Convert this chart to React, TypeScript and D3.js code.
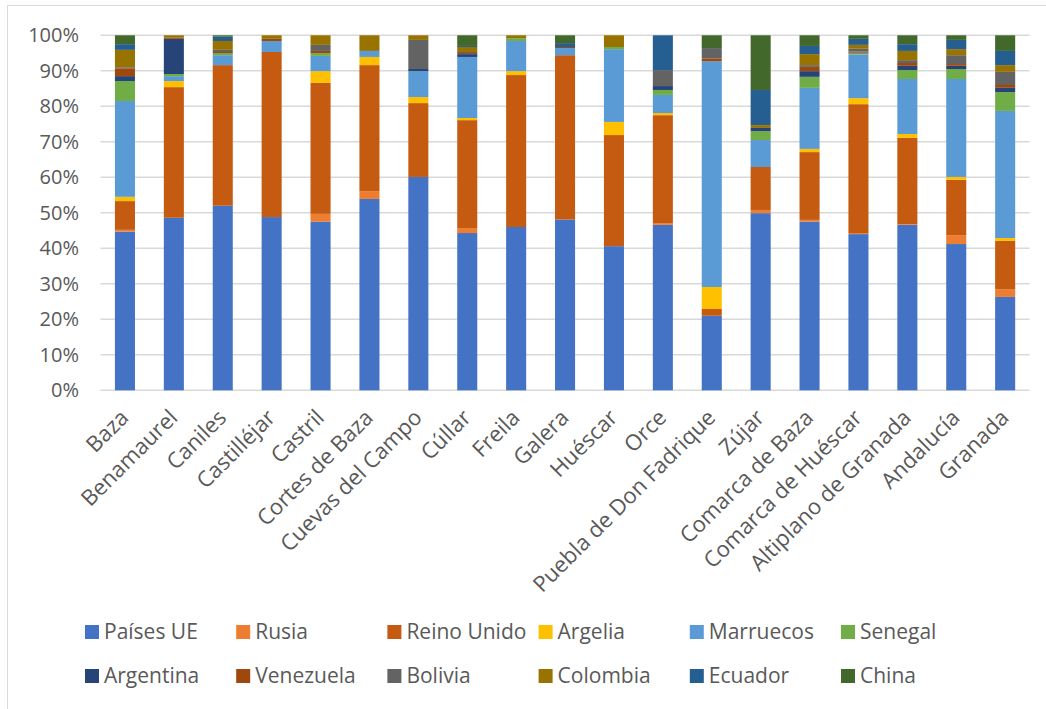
import React from "react";
import * as d3 from "d3";

const categories = [
  "Baza", "Benamaurel", "Caniles", "Castilléjar", "Castril", "Cortes de Baza",
  "Cuevas del Campo", "Cúllar", "Freila", "Galera", "Huéscar", "Orce",
  "Puebla de Don Fadrique", "Zújar", "Comarca de Baza", "Comarca de Huéscar",
  "Altiplano de Granada", "Andalucía", "Granada",
];

const paisesUE = [44.7, 48.6, 52.0, 48.8, 47.5, 53.9, 60.1, 44.3, 46.0, 48.1, 40.6, 46.6, 21.0, 49.9, 47.5, 44.0, 46.6, 41.2, 26.3];
const rusia = [0.5, 0, 0, 0, 2.2, 2.2, 0, 1.4, 0, 0, 0, 0.5, 0, 0.9, 0.5, 0.3, 0.2, 2.5, 2.2];
const reinoUnido = [8.1, 36.8, 39.6, 46.5, 36.9, 35.5, 20.8, 30.4, 42.8, 46.3, 31.3, 30.4, 1.9, 12.1, 19.1, 36.3, 24.3, 15.6, 13.6];
const argelia = [1.2, 1.7, 0, 0, 3.3, 2.3, 1.7, 0.6, 1.1, 0, 3.7, 0.6, 6.2, 0, 0.9, 1.7, 1.1, 0.8, 0.8];
const marruecos = [27.0, 1.4, 2.8, 3.1, 4.3, 1.7, 7.3, 17.2, 8.5, 2.0, 20.5, 5.1, 63.6, 7.6, 17.2, 12.3, 15.5, 27.6, 35.8];
const senegal = [5.6, 0.6, 0.6, 0, 0.8, 0, 0, 0, 0.8, 0, 0.6, 1.4, 0, 2.5, 3.1, 0.3, 2.5, 2.8, 5.3];
const argentina = [1.4, 9.9, 0, 0, 0, 0, 0.6, 0.8, 0, 0, 0, 1.1, 0, 0.9, 1.6, 0.2, 1.2, 0.9, 1.2];
const venezuela = [2.2, 0.3, 0.3, 0.6, 0.6, 0, 0, 0.3, 0, 0.3, 0, 0, 0.8, 0, 1.2, 0.3, 0.8, 0.5, 0.8];
const bolivia = [0.3, 0, 0.6, 0, 1.7, 0, 8.2, 0.3, 0, 0, 0, 4.5, 2.9, 0, 0.5, 0.8, 0.8, 2.5, 3.7];
const colombia = [4.9, 0.7, 2.5, 1.0, 2.7, 4.4, 1.3, 1.4, 0.8, 0, 3.3, 0, 0, 0.8, 3.1, 1.1, 2.6, 1.7, 1.9];
const ecuador = [1.6, 0, 1.2, 0, 0, 0, 0, 0.3, 0, 1.1, 0, 9.8, 0, 9.9, 2.3, 1.7, 1.9, 2.6, 4.0];
const china = [2.5, 0, 0.4, 0, 0, 0, 0, 3.0, 0, 2.2, 0, 0, 3.6, 15.4, 3.0, 1.0, 2.5, 1.3, 4.4];

const seriesNames = [
  "Países UE", "Rusia", "Reino Unido", "Argelia", "Marruecos", "Senegal",
  "Argentina", "Venezuela", "Bolivia", "Colombia", "Ecuador", "China",
];
const seriesValues = [
  paisesUE, rusia, reinoUnido, argelia, marruecos, senegal,
  argentina, venezuela, bolivia, colombia, ecuador, china,
];
const seriesColors = [
  "#4472C4", "#ED7D31", "#C55A11", "#FFC000", "#5B9BD5", "#70AD47",
  "#264478", "#9E480E", "#636363", "#997300", "#255E91", "#43682B",
];
const yTicks = [0, 0.1, 0.2, 0.3, 0.4, 0.5, 0.6, 0.7, 0.8, 0.9, 1.0];

const W = 1046;
const H = 709;
const FONT = "'Open Sans', 'Noto Sans', sans-serif";
const TEXT = "#595959";

export default function App() {
  const rows = categories.map((c, i) => {
    const r: Record<string, any> = { cat: c };
    seriesNames.forEach((s, k) => (r[s] = seriesValues[k][i]));
    return r;
  });
  const stack = d3.stack<any>().keys(seriesNames).offset(d3.stackOffsetExpand);
  const layers = stack(rows);

  const x = d3.scaleBand<string>().domain(categories).range([100.5, 1029.6]).paddingInner(0.59).paddingOuter(0.295);
  const y = d3.scaleLinear().domain([0, 1]).range([390.3, 35.3]);
  const pct = d3.format(".0%");

  const legendX0 = 85;
  const legendDX = 151.2;
  const legendRows = [632, 676];

  return (
    <svg width={W} height={H} style={{ position: "absolute", left: 0, top: 0, background: "#fff" }} fontFamily={FONT}>
      <rect x={7.5} y={5.5} width={W + 20} height={H + 20} fill="#fff" stroke="#D9D9D9" strokeWidth={1} />
      {yTicks.map((t) => (
        <g key={t}>
          <line x1={100.5} x2={1029.6} y1={y(t)} y2={y(t)} stroke="#D9D9D9" strokeWidth={1.5} />
          <text x={79} y={y(t)} dy="0.35em" textAnchor="end" fontSize={20} fill={TEXT}>
            {pct(t)}
          </text>
        </g>
      ))}
      {layers.map((layer, k) => (
        <g key={layer.key} fill={seriesColors[k]}>
          {layer.map((d, i) => {
            const h = y(d[0]) - y(d[1]);
            if (h <= 0) return null;
            return (
              <rect key={i} x={x(categories[i])} y={y(d[1])} width={x.bandwidth()} height={h} />
            );
          })}
        </g>
      ))}
      {categories.map((c) => {
        const cx = (x(c) as number) + x.bandwidth() / 2;
        return (
          <text
            key={c}
            transform={`translate(${cx + 5},${419}) rotate(-45)`}
            textAnchor="end"
            fontSize={22}
            fill={TEXT}
          >
            {c}
          </text>
        );
      })}
      {seriesNames.map((s, k) => {
        const col = k % 6;
        const row = Math.floor(k / 6);
        const lx = legendX0 + col * legendDX;
        const ly = legendRows[row];
        return (
          <g key={s}>
            <rect x={lx} y={ly - 7} width={14} height={14} fill={seriesColors[k]} />
            <text x={lx + 19} y={ly} dy="0.35em" fontSize={21} fill={TEXT}>
              {s}
            </text>
          </g>
        );
      })}
    </svg>
  );
}
